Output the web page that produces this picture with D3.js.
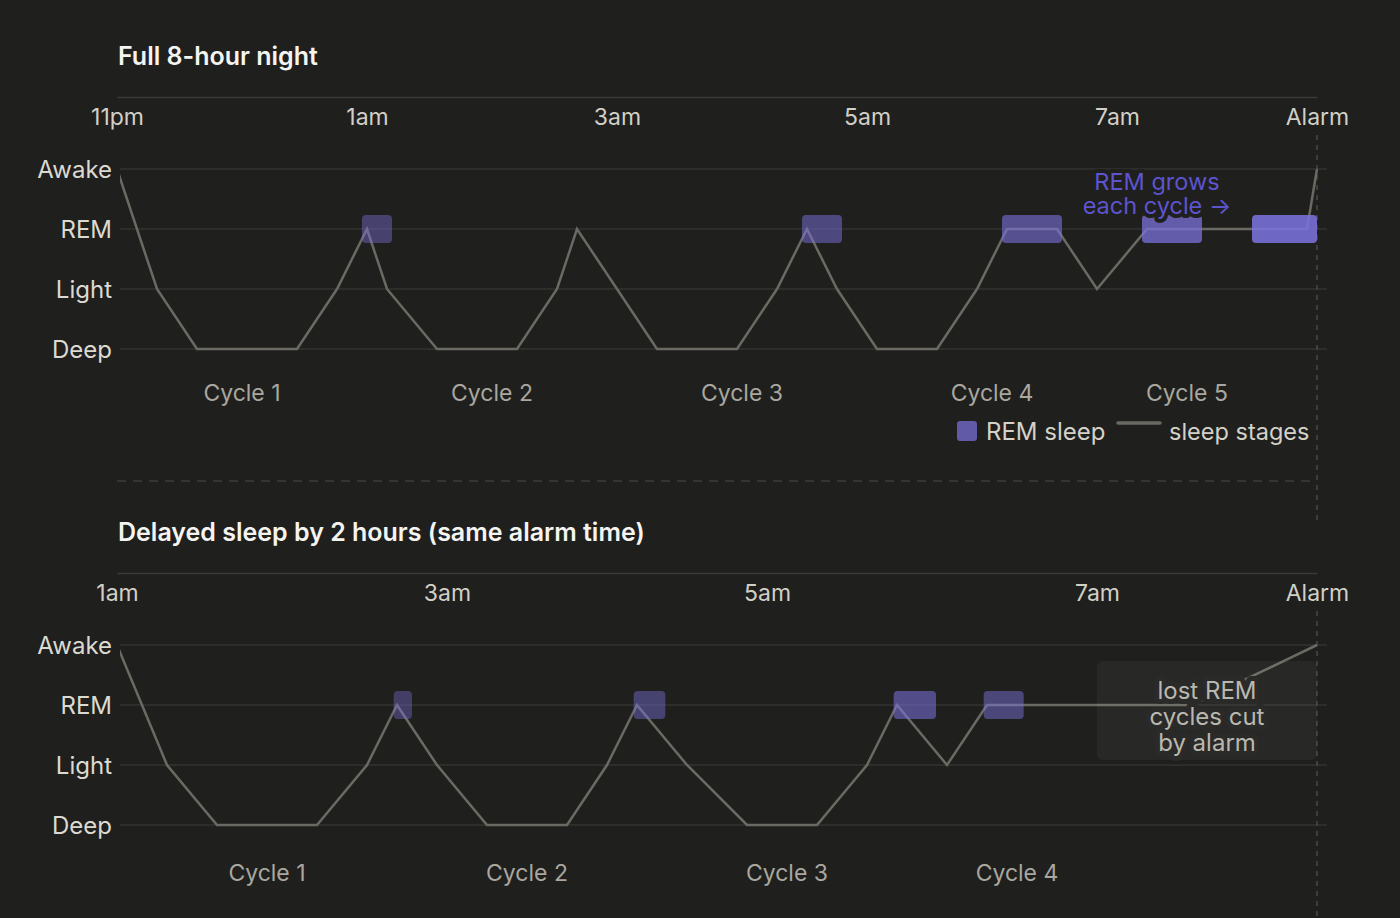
<!DOCTYPE html>
<html>
<head>
<meta charset="utf-8">
<script src="https://cdn.jsdelivr.net/npm/d3@7"></script>
<style>
  html, body { margin: 0; padding: 0; background: #1f1f1e; }
  svg { display: block; font-family: Inter, "Open Sans", sans-serif; }
</style>
</head>
<body>
<svg id="chart" width="1400" height="918"></svg>
<script>
// ---------------- DATA ----------------
const stages = ["Awake", "REM", "Light", "Deep"];

// Panel 1: full 8-hour night (x in minutes after sleep onset)
const fullTickValues = [0, 100, 200, 300, 400, 480];
const fullTickLabels = ["11pm", "1am", "3am", "5am", "7am", "Alarm"];
const fullMinutes = [0, 16, 32, 72, 88, 100, 108, 128, 160, 176, 184, 216, 248, 264, 276, 288, 304, 328, 344, 356, 376, 392, 412, 476, 480];
const fullStages  = ["Awake","Light","Deep","Deep","Light","REM","Light","Deep","Deep","Light","REM","Deep","Deep","Light","REM","Light","Deep","Deep","Light","REM","REM","Light","REM","REM","Awake"];
const fullRemStart = [98, 274, 354, 410, 454];
const fullRemEnd   = [110, 290, 378, 434, 480];
const fullCycleNames = ["Cycle 1", "Cycle 2", "Cycle 3", "Cycle 4", "Cycle 5"];
const fullCycleMid   = [50, 150, 250, 350, 428];

// Panel 2: delayed sleep by 2 hours (same alarm)
const delayTickValues = [0, 99, 195, 294, 360];
const delayTickLabels = ["1am", "3am", "5am", "7am", "Alarm"];
const delayMinutes = [0, 15, 30, 60, 75, 84, 96, 111, 135, 147, 156, 171, 189, 210, 225, 234, 249, 261, 322.5, 360];
const delayStages  = ["Awake","Light","Deep","Deep","Light","REM","Light","Deep","Deep","Light","REM","Light","Deep","Deep","Light","REM","Light","REM","REM","Awake"];
const delayRemStart = [83, 155, 233, 260];
const delayRemEnd   = [88.5, 164.5, 245.7, 272];
const delayCycleNames = ["Cycle 1", "Cycle 2", "Cycle 3", "Cycle 4"];
const delayCycleMid   = [45, 123, 201, 270];

// ---------------- STYLE ----------------
const BG = "#1f1f1e";
const GRID = "#333331";
const LINE = "#6b6a62";
const REMC = "#7b72dc";
const fullRemOpacity  = [0.42, 0.5, 0.6, 0.74, 0.88];
const delayRemOpacity = [0.38, 0.44, 0.56, 0.48];

const svg = d3.select("#chart");
svg.append("rect").attr("width", 1400).attr("height", 918).attr("fill", BG);

function panel(cfg) {
  const g = svg.append("g");
  const x = d3.scaleLinear().domain(cfg.domain).range([117, 1317]);
  const y = d3.scalePoint().domain(stages).range([cfg.top, cfg.top + 180]);

  // title
  g.append("text").attr("x", 118).attr("y", cfg.titleY)
    .attr("dominant-baseline", "central")
    .attr("fill", "#f4f4f1").attr("font-size", 25).attr("font-weight", 600)
    .text(cfg.title);

  // top axis
  const axis = d3.axisTop(x).tickValues(cfg.tickValues)
    .tickFormat((d, i) => cfg.tickLabels[i]).tickSize(0).tickPadding(0);
  const ax = g.append("g").attr("transform", `translate(0,${cfg.axisY})`).call(axis);
  ax.select(".domain").attr("stroke", "#3a3a38").attr("stroke-width", 1.5);
  ax.selectAll("text").attr("y", 20).attr("dy", null)
    .attr("dominant-baseline", "central")
    .attr("fill", "#d2d0c6").attr("font-size", 23)
    .attr("font-family", "Inter, sans-serif");

  // grid + y labels
  g.selectAll(".grid").data(stages).join("line")
    .attr("x1", 120).attr("x2", 1327)
    .attr("y1", d => y(d)).attr("y2", d => y(d))
    .attr("stroke", GRID).attr("stroke-width", 1.5);
  g.selectAll(".ylab").data(stages).join("text")
    .attr("x", 112).attr("y", d => y(d))
    .attr("text-anchor", "end").attr("dominant-baseline", "central")
    .attr("fill", "#dcdad0").attr("font-size", 24)
    .text(d => d);

  // alarm dashed vertical
  g.append("line").attr("x1", x(cfg.domain[1])).attr("x2", x(cfg.domain[1]))
    .attr("y1", cfg.axisY + 38).attr("y2", cfg.dashEnd)
    .attr("stroke", "#4a4a47").attr("stroke-width", 1.5).attr("stroke-dasharray", "5,5");

  // sleep line
  const clipId = "clip" + cfg.top;
  svg.append("clipPath").attr("id", clipId).append("rect")
    .attr("x", 120).attr("y", 0).attr("width", 1300).attr("height", 918);
  const pts = cfg.minutes.map((m, i) => [m, cfg.stages[i]]);
  g.append("path").datum(pts)
    .attr("clip-path", `url(#${clipId})`)
    .attr("d", d3.line().x(d => x(d[0])).y(d => y(d[1])))
    .attr("fill", "none").attr("stroke", LINE).attr("stroke-width", 2.5)
    .attr("stroke-linejoin", "miter");

  // REM blocks
  const rem = cfg.remStart.map((s, i) => ({ s, e: cfg.remEnd[i], o: cfg.remOpacity[i] }));
  g.selectAll(".rem").data(rem).join("rect")
    .attr("x", d => x(d.s)).attr("width", d => x(d.e) - x(d.s))
    .attr("y", y("REM") - 14).attr("height", 28)
    .attr("rx", 4).attr("fill", REMC).attr("fill-opacity", d => d.o);

  // cycle labels
  g.selectAll(".cyc").data(cfg.cycleNames).join("text")
    .attr("x", (d, i) => x(cfg.cycleMid[i])).attr("y", y("Deep") + cfg.cycleOffset)
    .attr("text-anchor", "middle").attr("dominant-baseline", "central")
    .attr("fill", "#a9a79f").attr("font-size", 23)
    .text(d => d);

  return { g, x, y };
}

// ---------- Panel 1 ----------
const p1 = panel({
  title: "Full 8-hour night", titleY: 56, axisY: 97, top: 169, dashEnd: 522, cycleOffset: 44,
  domain: [0, 480], tickValues: fullTickValues, tickLabels: fullTickLabels,
  minutes: fullMinutes, stages: fullStages,
  remStart: fullRemStart, remEnd: fullRemEnd, remOpacity: fullRemOpacity,
  cycleNames: fullCycleNames, cycleMid: fullCycleMid
});

// annotation: REM grows each cycle
const ann = p1.g.append("text")
  .attr("text-anchor", "middle").attr("fill", "#5d54cf").attr("font-size", 23.5)
  .attr("stroke", BG).attr("stroke-width", 8).attr("paint-order", "stroke")
  .attr("stroke-linejoin", "round");
ann.append("tspan").attr("x", p1.x(416)).attr("y", p1.y("REM") - 48)
  .attr("dominant-baseline", "central").text("REM grows");
ann.append("tspan").attr("x", p1.x(416)).attr("y", p1.y("REM") - 24)
  .attr("dominant-baseline", "central").text("each cycle →");

// legend
const leg = p1.g.append("g");
leg.append("rect").attr("x", 957).attr("y", 421).attr("width", 20).attr("height", 20)
  .attr("rx", 3).attr("fill", REMC).attr("fill-opacity", 0.72);
leg.append("text").attr("x", 986).attr("y", 431).attr("dominant-baseline", "central")
  .attr("fill", "#d4d2c8").attr("font-size", 24).text("REM sleep");
leg.append("line").attr("x1", 1118).attr("x2", 1160).attr("y1", 423).attr("y2", 423)
  .attr("stroke", LINE).attr("stroke-width", 3.5).attr("stroke-linecap", "round");
leg.append("text").attr("x", 1169).attr("y", 431).attr("dominant-baseline", "central")
  .attr("fill", "#d4d2c8").attr("font-size", 23.5).text("sleep stages");

// separator
svg.append("line").attr("x1", 117).attr("x2", 1317).attr("y1", 481).attr("y2", 481)
  .attr("stroke", "#3c3c3a").attr("stroke-width", 1.5).attr("stroke-dasharray", "9,7");

// ---------- Panel 2 ----------
const p2 = panel({
  title: "Delayed sleep by 2 hours (same alarm time)", titleY: 532, axisY: 573, top: 645, dashEnd: 918, cycleOffset: 48,
  domain: [0, 360], tickValues: delayTickValues, tickLabels: delayTickLabels,
  minutes: delayMinutes, stages: delayStages,
  remStart: delayRemStart, remEnd: delayRemEnd, remOpacity: delayRemOpacity,
  cycleNames: delayCycleNames, cycleMid: delayCycleMid
});

// annotation box: lost REM cycles
const boxL = p2.x(294), boxR = p2.x(360);
const boxT = p2.y("REM") - 44, boxB = p2.y("Light") - 5;
p2.g.append("rect").attr("x", boxL).attr("y", boxT)
  .attr("width", boxR - boxL).attr("height", boxB - boxT)
  .attr("rx", 6).attr("fill", "#ffffff").attr("fill-opacity", 0.045);
const bt = p2.g.append("text")
  .attr("text-anchor", "middle").attr("fill", "#bab8ae").attr("font-size", 24)
  .attr("stroke", "#2a2a29").attr("stroke-width", 10).attr("paint-order", "stroke")
  .attr("stroke-linejoin", "round");
["lost REM", "cycles cut", "by alarm"].forEach((t, i) => {
  bt.append("tspan").attr("x", (boxL + boxR) / 2).attr("y", p2.y("REM") - 15 + i * 26)
    .attr("dominant-baseline", "central").text(t);
});
</script>
</body>
</html>
